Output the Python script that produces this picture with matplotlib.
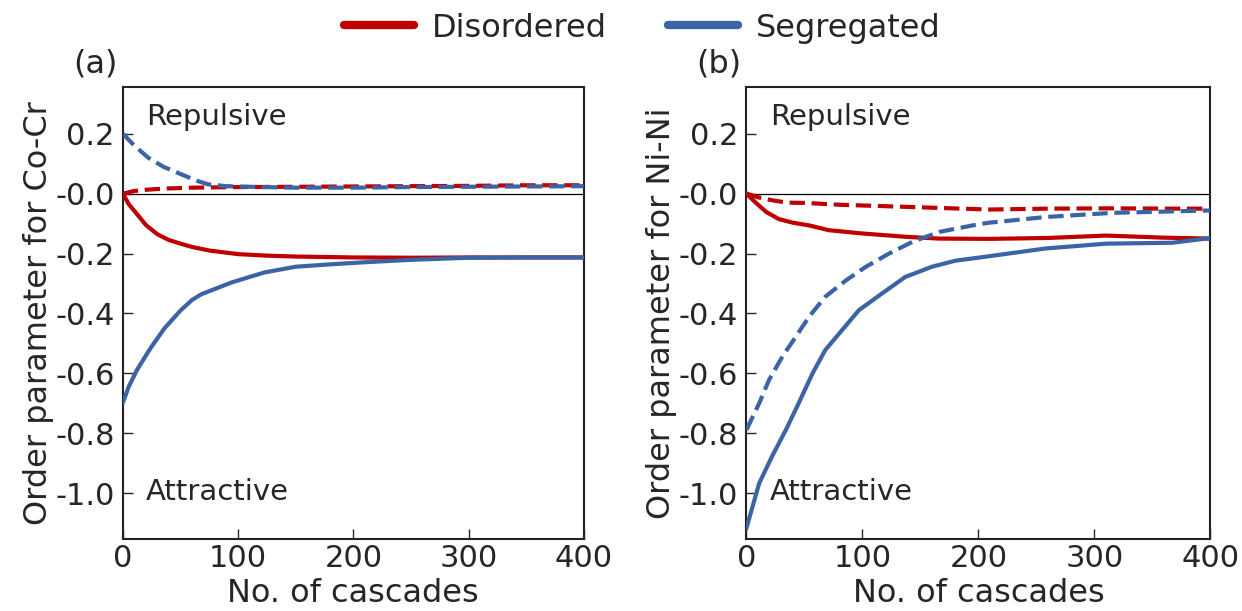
import matplotlib
matplotlib.use("Agg")
import matplotlib.pyplot as plt
from matplotlib.lines import Line2D

# ---- data -------------------------------------------------------------
# (a) Co-Cr order parameter
a_dis_x = [0, 5, 10, 20, 30, 40, 50, 60, 75, 100, 125, 150, 200, 250, 300, 350, 400]
a_dis_y = [0, -0.035, -0.058, -0.105, -0.136, -0.155, -0.167, -0.178, -0.19, -0.202,
           -0.207, -0.21, -0.213, -0.214, -0.213, -0.213, -0.213]
a_dis_d_x = [0, 10, 20, 36, 60, 100, 150, 200, 250, 300, 350, 400]
a_dis_d_y = [0, 0.009, 0.013, 0.017, 0.02, 0.022, 0.023, 0.024, 0.025, 0.026, 0.028, 0.028]
a_seg_x = [0, 5, 12, 20, 25, 36, 50, 60, 68, 80, 94, 110, 123, 150, 180, 210, 250,
           300, 350, 400]
a_seg_y = [-0.697, -0.645, -0.59, -0.54, -0.51, -0.45, -0.39, -0.355, -0.336, -0.318,
           -0.297, -0.278, -0.263, -0.244, -0.236, -0.229, -0.221, -0.214, -0.213, -0.213]
a_seg_d_x = [0, 10, 22, 35, 51, 65, 74, 90, 120, 150, 200, 250, 300, 350, 400]
a_seg_d_y = [0.2, 0.16, 0.12, 0.09, 0.064, 0.042, 0.031, 0.025, 0.022, 0.02, 0.02,
             0.022, 0.023, 0.024, 0.025]

# (b) Ni-Ni order parameter
b_dis_x = [0, 8, 17, 28, 40, 54, 71, 100, 137, 166, 209, 260, 310, 360, 400]
b_dis_y = [0, -0.03, -0.061, -0.085, -0.097, -0.106, -0.122, -0.133, -0.144, -0.15,
           -0.151, -0.148, -0.14, -0.147, -0.15]
b_dis_d_x = [0, 10, 22, 35, 51, 80, 137, 209, 260, 316, 360, 400]
b_dis_d_y = [0, -0.012, -0.022, -0.03, -0.031, -0.037, -0.044, -0.053, -0.05, -0.049,
             -0.05, -0.05]
b_seg_x = [0, 11, 22, 34, 45, 57, 68, 80, 97, 117, 137, 160, 180, 209, 258, 310, 367,
           396, 400]
b_seg_y = [-1.117, -0.967, -0.878, -0.789, -0.70, -0.60, -0.522, -0.467, -0.389, -0.333,
           -0.278, -0.244, -0.224, -0.209, -0.183, -0.167, -0.164, -0.15, -0.15]
b_seg_d_x = [0, 11, 19.5, 31, 42.5, 54, 68, 86, 103, 123, 143, 166, 195, 209, 258, 316,
             360, 400]
b_seg_d_y = [-0.789, -0.7, -0.622, -0.544, -0.478, -0.411, -0.344, -0.289, -0.244, -0.2,
             -0.161, -0.128, -0.106, -0.097, -0.078, -0.064, -0.06, -0.056]

y_ticks = [-1.0, -0.8, -0.6, -0.4, -0.2, 0.0, 0.2]
y_tick_labels = ["-1.0", "-0.8", "-0.6", "-0.4", "-0.2", "-0.0", "0.2"]
x_ticks = [0, 100, 200, 300, 400]
series_names = ["Disordered", "Segregated"]
y_labels = ["Order parameter for Co-Cr", "Order parameter for Ni-Ni"]
panel_tags = ["(a)", "(b)"]

# ---- style ------------------------------------------------------------
RED = "#C00000"
BLUE = "#3B64A6"
TXT = "#262626"
FS_TICK = 22
FS_LABEL = 23
FS_NOTE = 21
plt.rcParams.update({
    "font.family": ["DejaVu Sans"],
    "text.color": TXT,
    "axes.labelcolor": TXT,
    "xtick.color": TXT,
    "ytick.color": TXT,
})

fig = plt.figure(figsize=(12.42, 6.11), dpi=100)
ax1 = fig.add_axes([0.099, 0.118, 0.371, 0.740])
ax2 = fig.add_axes([0.601, 0.118, 0.3736, 0.740])

panels = [
    (ax1, (a_dis_x, a_dis_y), (a_dis_d_x, a_dis_d_y), (a_seg_x, a_seg_y), (a_seg_d_x, a_seg_d_y)),
    (ax2, (b_dis_x, b_dis_y), (b_dis_d_x, b_dis_d_y), (b_seg_x, b_seg_y), (b_seg_d_x, b_seg_d_y)),
]

LW = 3.0
for i, (ax, dis, dis_d, seg, seg_d) in enumerate(panels):
    ax.axhline(0, color="black", lw=0.9, zorder=1)
    ax.plot(*dis, color=RED, lw=LW, zorder=3)
    ax.plot(*seg, color=BLUE, lw=LW, zorder=3)
    ax.plot(*dis_d, color=RED, lw=LW, ls="--", zorder=3)
    ax.plot(*seg_d, color=BLUE, lw=LW, ls="--", zorder=4)

    ax.set_xlim(0, 400)
    ax.set_ylim(-1.153, 0.357)
    ax.set_xticks(x_ticks)
    ax.set_yticks(y_ticks)
    ax.set_yticklabels(y_tick_labels)
    ax.tick_params(direction="in", length=7, width=1.0, labelsize=FS_TICK,
                   top=False, right=False, pad=6)
    ax.tick_params(axis="x", pad=4)
    for sp in ax.spines.values():
        sp.set_linewidth(1.5)
        sp.set_color("#222222")
    ax.set_xlabel("No. of cascades", fontsize=FS_LABEL, labelpad=3)
    ax.set_ylabel(y_labels[i], fontsize=FS_LABEL, labelpad=1)
    ax.text(20, 0.257, "Repulsive", fontsize=FS_NOTE, ha="left", va="center")
    ax.text(20, -0.997, "Attractive", fontsize=FS_NOTE, ha="left", va="center")
    ax.text(-0.06, 1.05, panel_tags[i], transform=ax.transAxes, fontsize=FS_LABEL,
            ha="center", va="center")

handles = [Line2D([0], [0], color=RED, lw=6, solid_capstyle="round"),
           Line2D([0], [0], color=BLUE, lw=6, solid_capstyle="round")]
fig.legend(handles, series_names, loc="center", bbox_to_anchor=(0.517, 0.954),
           ncol=2, frameon=False, fontsize=FS_LABEL, handlelength=2.2,
           columnspacing=1.9, handletextpad=0.55)

fig.savefig("out.png", dpi=100)
